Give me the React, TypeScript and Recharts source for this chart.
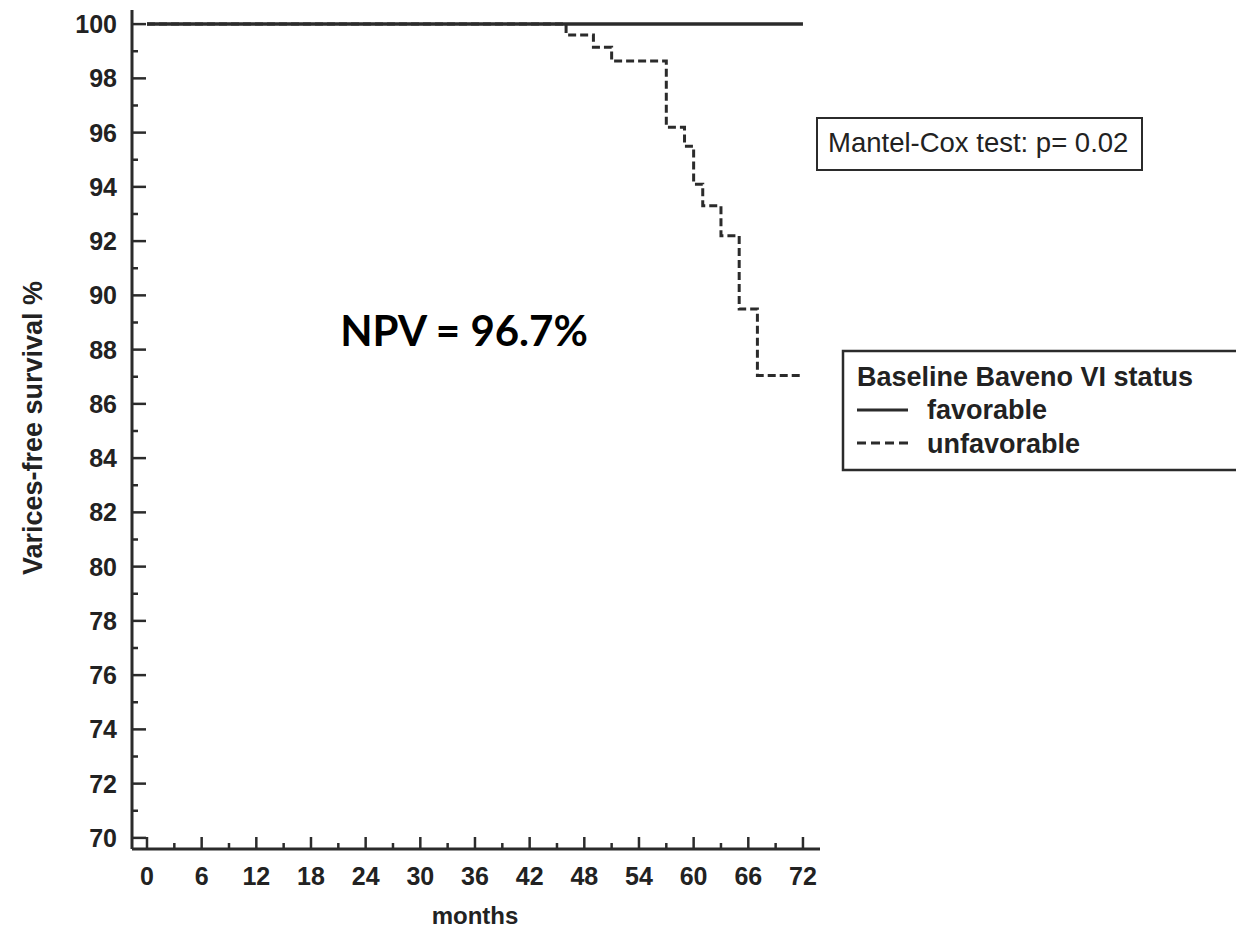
import React from 'react';
import { LineChart, Line, XAxis, YAxis } from 'recharts';

// months on the x axis (majors every 6, minors in between)
const monthTicks = [0, 3, 6, 9, 12, 15, 18, 21, 24, 27, 30, 33, 36, 39, 42, 45, 48, 51, 54, 57, 60, 63, 66, 69, 72];
// survival % on the y axis (majors every 2)
const survivalTicks = [70, 71, 72, 73, 74, 75, 76, 77, 78, 79, 80, 81, 82, 83, 84, 85, 86, 87, 88, 89, 90, 91, 92, 93, 94, 95, 96, 97, 98, 99, 100];

const favorableMonths = [0, 72];
const favorableSurvival = [100, 100];

const unfavorableMonths = [0, 46, 49, 51, 57, 59, 60, 61, 63, 65, 67, 72];
const unfavorableSurvival = [100, 99.6, 99.15, 98.64, 96.2, 95.5, 94.1, 93.3, 92.2, 89.5, 87.05, 87.05];

const favorableData = favorableMonths.map((m, i) => ({ month: m, survival: favorableSurvival[i] }));
const unfavorableData = unfavorableMonths.map((m, i) => ({ month: m, survival: unfavorableSurvival[i] }));

const INK = '#2b2b2b';
const FONT = '"Liberation Sans", Arial, sans-serif';

function YTick(props: any) {
  const { x, y, payload } = props;
  const major = payload.value % 2 === 0;
  return (
    <g>
      <line x1={x} x2={x + (major ? 14 : 6)} y1={y} y2={y} stroke={INK} strokeWidth={2.5} />
      {major && (
        <text x={x - 15} y={y + 9} textAnchor="end" fontFamily={FONT} fontWeight="bold" fontSize={25} fill="#222">
          {payload.value}
        </text>
      )}
    </g>
  );
}

function XTick(props: any) {
  const { x, y, payload } = props;
  const major = payload.value % 6 === 0;
  return (
    <g>
      <line x1={x} x2={x} y1={y} y2={y - (major ? 12 : 6)} stroke={INK} strokeWidth={2.5} />
      {major && (
        <text x={x} y={y + 36} textAnchor="middle" fontFamily={FONT} fontWeight="bold" fontSize={25} fill="#222">
          {payload.value}
        </text>
      )}
    </g>
  );
}

function YLabel() {
  return (
    <text
      transform="translate(42, 428) rotate(-90)"
      textAnchor="middle"
      fontFamily={FONT}
      fontWeight="bold"
      fontSize={27}
      fill="#222"
    >
      Varices-free survival %
    </text>
  );
}

function XLabel() {
  return (
    <text x={475} y={924} textAnchor="middle" fontFamily={FONT} fontWeight="bold" fontSize={24} fill="#222">
      months
    </text>
  );
}

export default function App() {
  return (
    <div style={{ position: 'absolute', left: 0, top: 0, width: 1236, height: 930, background: '#fff' }}>
      <LineChart width={1236} height={930} margin={{ top: 10, right: 416, bottom: 0, left: 0 }}>
        <XAxis
          type="number"
          dataKey="month"
          domain={[-1.646, 73.87]}
          ticks={monthTicks}
          interval={0}
          allowDataOverflow
          height={81}
          tickSize={0}
          tickMargin={0}
          tickLine={false}
          tick={<XTick />}
          axisLine={{ stroke: INK, strokeWidth: 3 }}
          label={<XLabel />}
        />
        <YAxis
          type="number"
          dataKey="survival"
          domain={[69.59, 100.52]}
          ticks={survivalTicks}
          interval={0}
          allowDataOverflow
          width={132}
          tickSize={0}
          tickMargin={0}
          tickLine={false}
          tick={<YTick />}
          axisLine={{ stroke: INK, strokeWidth: 3 }}
          label={<YLabel />}
        />
        <Line
          data={unfavorableData}
          dataKey="survival"
          type="stepAfter"
          stroke={INK}
          strokeWidth={3}
          strokeDasharray="8 4"
          dot={false}
          isAnimationActive={false}
        />
        <Line
          data={favorableData}
          dataKey="survival"
          type="stepAfter"
          stroke={INK}
          strokeWidth={3.5}
          dot={false}
          isAnimationActive={false}
        />
      </LineChart>

      {/* annotations: NPV text, test box, legend box */}
      <svg width={1236} height={930} style={{ position: 'absolute', left: 0, top: 0, pointerEvents: 'none' }}>
        <text x={464} y={346} textAnchor="middle" fontFamily="Lato, 'Open Sans', sans-serif" fontWeight="bold" fontSize={42} fill="#000">
          NPV = 96.7%
        </text>

        <rect x={817} y={118} width={325} height={52} fill="#fff" stroke={INK} strokeWidth={2} />
        <text x={828} y={152} fontFamily={FONT} fontSize={27.5} fill="#222">
          Mantel-Cox test: p= 0.02
        </text>

        <rect x={843} y={351} width={400} height={119} fill="#fff" stroke={INK} strokeWidth={2.5} />
        <text x={857} y={386} fontFamily={FONT} fontWeight="bold" fontSize={27} fill="#222">
          Baseline Baveno VI status
        </text>
        <line x1={857} x2={908} y1={410} y2={410} stroke={INK} strokeWidth={3} />
        <text x={927} y={419} fontFamily={FONT} fontWeight="bold" fontSize={27} fill="#222">
          favorable
        </text>
        <line x1={857} x2={908} y1={443} y2={443} stroke={INK} strokeWidth={3} strokeDasharray="9 5" />
        <text x={927} y={453} fontFamily={FONT} fontWeight="bold" fontSize={27} fill="#222">
          unfavorable
        </text>
      </svg>
    </div>
  );
}
